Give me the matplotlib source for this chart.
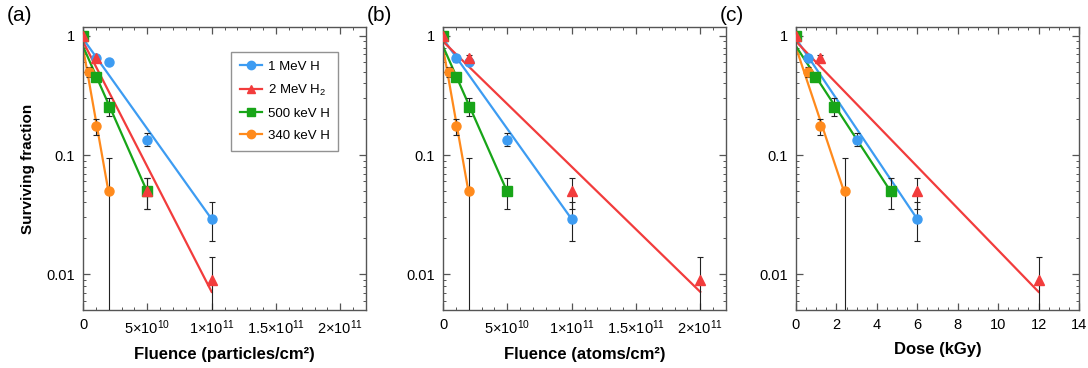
import matplotlib
matplotlib.use('Agg')
import matplotlib.pyplot as plt
import matplotlib.ticker as ticker
from matplotlib.lines import Line2D
import numpy as np

matplotlib.rcParams['font.family'] = 'Liberation Sans'
matplotlib.rcParams['mathtext.fontset'] = 'custom'
matplotlib.rcParams['mathtext.rm'] = 'Liberation Sans'
matplotlib.rcParams['mathtext.bf'] = 'Liberation Sans:bold'

# --- данные ---
names = ['1 MeV H', '2 MeV $\\mathregular{H_2}$', '500 keV H', '340 keV H']
colors = ['#3d9cf2', '#f23c3c', '#18a518', '#ff8a1c']
markers = ['o', '^', 's', 'o']

# флюенс частиц (particles/cm2)
flu_blue = [0, 1e10, 2e10, 5e10, 1e11]
flu_red = [0, 1e10, 5e10, 1e11]
flu_green = [0, 1e10, 2e10, 5e10]
flu_orange = [0, 5e9, 1e10, 2e10]

# флюенс атомов (atoms/cm2)
at_blue = [0, 1e10, 2e10, 5e10, 1e11]
at_red = [0, 2e10, 1e11, 2e11]
at_green = [0, 1e10, 2e10, 5e10]
at_orange = [0, 5e9, 1e10, 2e10]

# доза (kGy)
dose_blue = [0, 0.6, 3.0, 6.0]
dose_red = [0, 1.2, 6.0, 12.0]
dose_green = [0, 0.95, 1.9, 4.7]
dose_orange = [0, 0.6, 1.2, 2.4]

# выживаемость и границы погрешностей
sf_blue = [1, 0.65, 0.6, 0.135, 0.029]
lo_blue = [1, 0.61, 0.6, 0.12, 0.019]
hi_blue = [1, 0.69, 0.6, 0.152, 0.04]
sf_red = [1, 0.65, 0.05, 0.009]
lo_red = [1, 0.61, 0.035, 0.004]
hi_red = [1, 0.69, 0.064, 0.014]
sf_green = [1, 0.45, 0.255, 0.05]
lo_green = [1, 0.42, 0.213, 0.035]
hi_green = [1, 0.48, 0.30, 0.064]
sf_orange = [1, 0.5, 0.175, 0.05]
lo_orange = [1, 0.45, 0.147, 0.001]
hi_orange = [1, 0.55, 0.2, 0.095]

# в дозе у 1 MeV H нет точки 2e10
sf_blue_d = [1, 0.65, 0.135, 0.029]
lo_blue_d = [1, 0.61, 0.12, 0.019]
hi_blue_d = [1, 0.69, 0.152, 0.04]

# аппроксимация: значение в 0 и в последней точке
fit_start = [0.95, 0.9, 0.82, 0.8]
fit_end = [0.029, 0.0071, 0.049, 0.048]

panels = [
    dict(x=[flu_blue, flu_red, flu_green, flu_orange],
         y=[sf_blue, sf_red, sf_green, sf_orange],
         lo=[lo_blue, lo_red, lo_green, lo_orange],
         hi=[hi_blue, hi_red, hi_green, hi_orange],
         xlabel='Fluence (particles/cm²)', tag='(a)'),
    dict(x=[at_blue, at_red, at_green, at_orange],
         y=[sf_blue, sf_red, sf_green, sf_orange],
         lo=[lo_blue, lo_red, lo_green, lo_orange],
         hi=[hi_blue, hi_red, hi_green, hi_orange],
         xlabel='Fluence (atoms/cm²)', tag='(b)'),
    dict(x=[dose_blue, dose_red, dose_green, dose_orange],
         y=[sf_blue_d, sf_red, sf_green, sf_orange],
         lo=[lo_blue_d, lo_red, lo_green, lo_orange],
         hi=[hi_blue_d, hi_red, hi_green, hi_orange],
         xlabel='Dose (kGy)', tag='(c)'),
]

fig = plt.figure(figsize=(10.88, 3.68), dpi=100)
lefts = [83, 443, 796]
order = [0, 3, 2, 1]  # порядок отрисовки

def flu_fmt(v, pos):
    if v <= 0:
        return '0'
    e = int(np.floor(np.log10(v) + 1e-9))
    m = v / 10**e
    ms = ('%g' % m)
    return '$\\mathregular{%s{\\times}10^{%d}}$' % (ms, e)

for k, p in enumerate(panels):
    ax = fig.add_axes([lefts[k] / 1088, 1 - 310 / 368, 283 / 1088, 283 / 368])
    for n, i in enumerate(order):
        x = np.array(p['x'][i], dtype=float)
        y = np.array(p['y'][i])
        lo = np.array(p['lo'][i])
        hi = np.array(p['hi'][i])
        xe = x.max()
        xf = np.linspace(0, xe, 60)
        yf = fit_start[i] * (fit_end[i] / fit_start[i]) ** (xf / xe)
        ax.plot(xf, yf, color=colors[i], lw=1.6, zorder=2 + n * 0.1)
        m = hi > lo  # только ненулевые погрешности
        ax.errorbar(x[m], y[m], yerr=[y[m] - lo[m], hi[m] - y[m]], fmt='none',
                    ecolor='#222222', elinewidth=0.8, capsize=2, capthick=0.8,
                    zorder=3)
        ax.plot(x, y, ls='none', marker=markers[i], color=colors[i],
                ms=6.5, mec=colors[i], zorder=4 + n * 0.1)

    ax.set_yscale('log')
    ax.set_ylim(0.005, 1.19)
    ax.yaxis.set_major_locator(ticker.FixedLocator([0.01, 0.1, 1]))
    ax.yaxis.set_major_formatter(ticker.FixedFormatter(['0.01', '0.1', '1']))
    ax.yaxis.set_minor_locator(ticker.LogLocator(base=10, subs=np.arange(2, 10)))
    ax.yaxis.set_minor_formatter(ticker.NullFormatter())
    if k < 2:
        ax.set_xlim(0, 2.2e11)
        ax.xaxis.set_major_locator(ticker.MultipleLocator(5e10))
        ax.xaxis.set_minor_locator(ticker.MultipleLocator(1e10))
        ax.xaxis.set_major_formatter(ticker.FuncFormatter(flu_fmt))
    else:
        ax.set_xlim(0, 14)
        ax.xaxis.set_major_locator(ticker.MultipleLocator(2))
        ax.xaxis.set_minor_locator(ticker.MultipleLocator(0.5))
    ax.tick_params(which='both', direction='in', top=True, right=True,
                   labelsize=10.5, color='#555555', pad=6)
    ax.tick_params(which='major', length=5, width=0.9)
    ax.tick_params(which='minor', length=2.5, width=0.7)
    for s in ax.spines.values():
        s.set_color('#555555')
        s.set_linewidth(1.0)
    ax.set_xlabel(p['xlabel'], fontsize=12, fontweight='bold', labelpad=7)
    if k == 0:
        ax.set_ylabel('Surviving fraction', fontsize=11, fontweight='bold', labelpad=8)
        handles = [Line2D([], [], color=colors[i], marker=markers[i], ms=6,
                          lw=1.6) for i in range(4)]
        leg = ax.legend(handles, names, loc='upper left',
                        bbox_to_anchor=(0.523, 0.912), fontsize=9.5,
                        frameon=True, fancybox=False, handlelength=1.7,
                        labelspacing=0.75, borderpad=0.65, handletextpad=0.45,
                        borderaxespad=0)
        leg.get_frame().set_edgecolor('#777777')
        leg.get_frame().set_linewidth(1.0)
    fig.text((lefts[k] - 76) / 1088, 1 - 6 / 368, p['tag'], fontsize=15,
             ha='left', va='top')

fig.savefig('out.png', dpi=100)
